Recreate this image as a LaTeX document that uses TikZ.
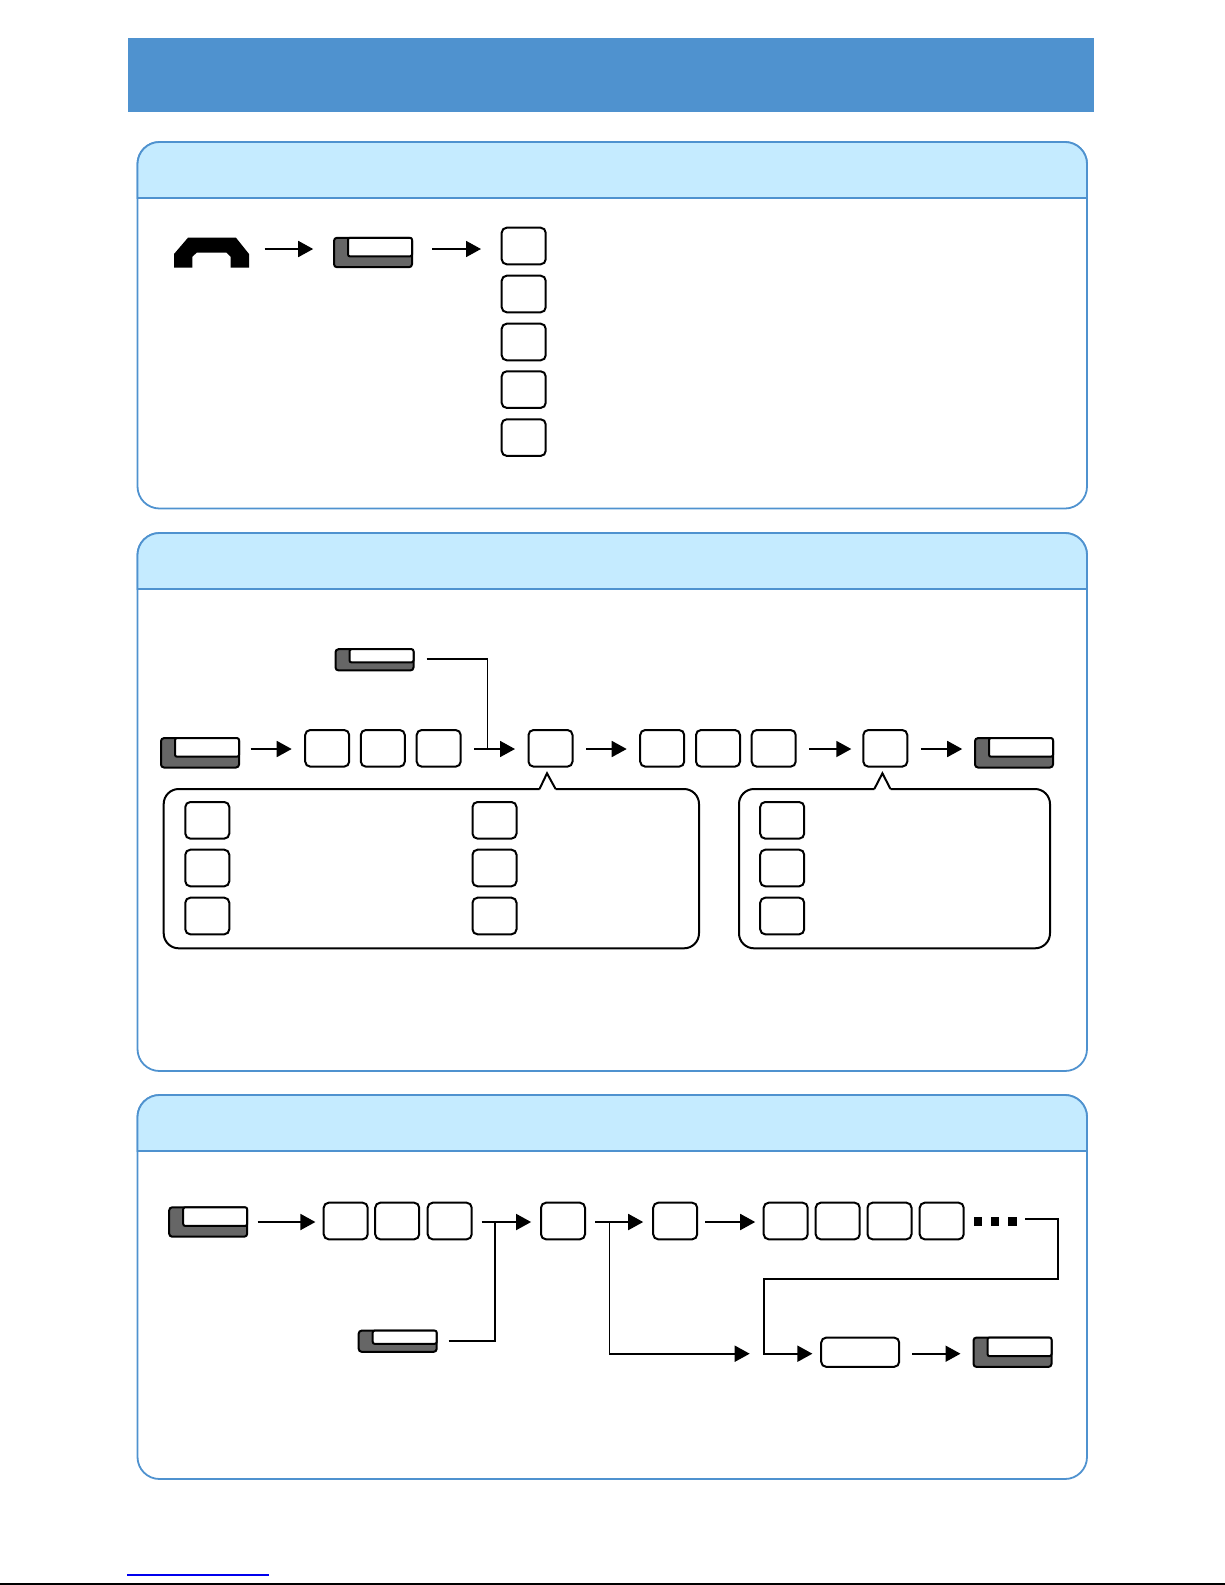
\documentclass[tikz,border=0pt]{standalone}
\usetikzlibrary{arrows.meta}
\definecolor{bannerblue}{HTML}{4F92CF}
\definecolor{headblue}{HTML}{C5EBFF}
\definecolor{keygray}{HTML}{666666}
\tikzset{
    >={Triangle[length=15pt,width=16pt]},
    conn/.style={line width=1.8pt},
    gap/.style 2 args={shorten <=#1pt, shorten >=#2pt},
    panelline/.style={draw=bannerblue, line width=1.8pt},
    panelhead/.style={fill=headblue, draw=bannerblue, line width=1.8pt},
    keybox/.style={draw, line width=2pt, rounded corners=5pt, fill=white, inner sep=0pt, outer sep=0pt, minimum width=44pt, minimum height=36.6pt},
    widebox/.style={keybox, minimum width=78pt, minimum height=29.2pt},
    softkey/.style={draw, line width=2pt, rounded corners=3pt, fill=keygray, inner sep=0pt, outer sep=0pt, minimum width=78pt, minimum height=29.4pt},
    softface/.style={draw, line width=2pt, rounded corners=2pt, fill=white, inner sep=0pt, outer sep=0pt, anchor=north east, minimum width=64pt, minimum height=18.6pt},
    softsmall/.style={softkey, minimum height=21.2pt},
    softfacesmall/.style={softface, minimum height=13.2pt},
    dotbox/.style={fill=black, inner sep=0pt, outer sep=0pt, minimum width=8.4pt, minimum height=9pt},
    balloon/.style={line width=2pt},
}
\begin{document}
\begin{tikzpicture}[x=1pt, y=-1pt]
    \useasboundingbox (0,0) rectangle (1225,1585);

    % banner
    \fill[bannerblue] (128,38.4) rectangle (1094,112);

    % first panel
    \draw[panelline, rounded corners=22pt] (137.5,142) rectangle (1087,508.5);
    \draw[panelhead] (137.5,198) [rounded corners=22pt] -- (137.5,142) -- (1087,142) [sharp corners] -- (1087,198) -- cycle;
    \fill (174,267.7) -- (174,254) -- (188,237.7) -- (236,237.7) -- (249,254) -- (249,267.7) -- (230.7,267.7) -- (230.7,256.7) -- (226.7,252.7) -- (196.7,252.7) -- (192.3,256.7) -- (192.3,267.7) -- cycle;
    \node[minimum width=75pt, minimum height=30pt, inner sep=0pt, outer sep=0pt] (phone) at (211.5,252.7) {};
    \coordinate (rowa) at (0,249);
    \node[softkey] (keya) at (373,252.5) {};
    \node[softface] (facea) at (keya.north east) {};
    \node[keybox] (boxa) at (523.7,246) {};
    \node[keybox] (boxb) at (523.7,294) {};
    \node[keybox] (boxc) at (523.7,342) {};
    \node[keybox] (boxd) at (523.7,389.6) {};
    \node[keybox] (boxe) at (523.7,437.6) {};
    \draw[->, conn, gap={15.7}{20.8}] (phone.east |- rowa) -- (keya.west |- rowa);
    \draw[->, conn, gap={20}{20.7}] (keya.east |- rowa) -- (boxa.west |- rowa);

    % second panel
    \draw[panelline, rounded corners=22pt] (137.5,533) rectangle (1087,1071);
    \draw[panelhead] (137.5,589) [rounded corners=22pt] -- (137.5,533) -- (1087,533) [sharp corners] -- (1087,589) -- cycle;
    \coordinate (rowb) at (0,749);
    \coordinate (rowe) at (0,658.7);
    \coordinate (joina) at (487.5,749);
    \node[softsmall] (keyb) at (374.5,659.8) {};
    \node[softfacesmall] (faceb) at (keyb.north east) {};
    \node[softkey] (keyc) at (200,752.8) {};
    \node[softface] (facec) at (keyc.north east) {};
    \node[keybox] (numa) at (327.2,748.3) {};
    \node[keybox] (numb) at (382.8,748.3) {};
    \node[keybox] (numc) at (438.7,748.3) {};
    \node[keybox] (numd) at (550.5,748.3) {};
    \node[keybox] (nume) at (662.2,748.3) {};
    \node[keybox] (numf) at (718,748.3) {};
    \node[keybox] (numg) at (773.7,748.3) {};
    \node[keybox] (numh) at (885.3,748.3) {};
    \node[softkey] (keyd) at (1014,752.8) {};
    \node[softface] (faced) at (keyd.north east) {};
    \draw[->, conn, gap={11.6}{13.5}] (keyc.east |- rowb) -- (numa.west |- rowb);
    \draw[->, conn, gap={13.5}{13.5}] (numc.east |- rowb) -- (numd.west |- rowb);
    \draw[->, conn, gap={13.5}{13.5}] (numd.east |- rowb) -- (nume.west |- rowb);
    \draw[->, conn, gap={13.5}{12}] (numg.east |- rowb) -- (numh.west |- rowb);
    \draw[->, conn, gap={13.5}{12.8}] (numh.east |- rowb) -- (keyd.west |- rowb);
    \draw[conn, shorten <=13pt] (keyb.east |- rowe) -| (joina);

    % balloons under the row
    \draw[balloon] (555.6,789) [rounded corners=15pt] -- (699,789) -- (699,948.3) -- (163.7,948.3) -- (163.7,789) -- (539.5,789) [sharp corners] (539.5,789) -- (547,773.3) -- (555.6,789);
    \node[keybox] (lefta) at (207.3,820.3) {};
    \node[keybox] (leftb) at (207.3,868) {};
    \node[keybox] (leftc) at (207.3,916) {};
    \node[keybox] (leftd) at (494.5,820.3) {};
    \node[keybox] (lefte) at (494.5,868) {};
    \node[keybox] (leftf) at (494.5,916) {};
    \draw[balloon] (890.5,789) [rounded corners=15pt] -- (1050,789) -- (1050,948.3) -- (739,948.3) -- (739,789) -- (874.3,789) [sharp corners] (874.3,789) -- (882.4,773.3) -- (890.5,789);
    \node[keybox] (righta) at (782.2,820.3) {};
    \node[keybox] (rightb) at (782.2,868) {};
    \node[keybox] (rightc) at (782.2,916) {};

    % third panel
    \draw[panelline, rounded corners=22pt] (137.5,1095) rectangle (1087,1479);
    \draw[panelhead] (137.5,1151) [rounded corners=22pt] -- (137.5,1095) -- (1087,1095) [sharp corners] -- (1087,1151) -- cycle;
    \coordinate (rowc) at (0,1222);
    \coordinate (rowd) at (0,1219.3);
    \coordinate (rowf) at (0,1353.7);
    \coordinate (joinb) at (495.2,1222);
    \coordinate (joinc) at (609.5,1222);
    \coordinate (mergea) at (749.7,1353.7);
    \coordinate (turna) at (1058.3,1278.7);
    \coordinate (turnb) at (763.7,1278.7);
    \node[softkey] (keye) at (208.2,1222) {};
    \node[softface] (facee) at (keye.north east) {};
    \node[keybox] (diala) at (345.7,1221) {};
    \node[keybox] (dialb) at (397.2,1221) {};
    \node[keybox] (dialc) at (449.7,1221) {};
    \node[keybox] (diald) at (563,1221) {};
    \node[keybox] (diale) at (675.2,1221) {};
    \node[keybox] (dialf) at (785.7,1221) {};
    \node[keybox] (dialg) at (837.7,1221) {};
    \node[keybox] (dialh) at (889.5,1221) {};
    \node[keybox] (diali) at (941.7,1221) {};
    \node[dotbox] (dota) at (977.9,1221.8) {};
    \node[dotbox] (dotb) at (995,1221.8) {};
    \node[dotbox] (dotc) at (1012.5,1221.8) {};
    \node[softsmall] (keyf) at (397.7,1341.2) {};
    \node[softfacesmall] (facef) at (keyf.north east) {};
    \node[widebox] (wide) at (860.2,1352.2) {};
    \node[softkey] (keyg) at (1012.5,1352.2) {};
    \node[softface] (faceg) at (keyg.north east) {};
    \draw[->, conn, gap={10.5}{8.3}] (keye.east |- rowc) -- (diala.west |- rowc);
    \draw[->, conn, gap={10}{9.9}] (dialc.east |- rowc) -- (diald.west |- rowc);
    \draw[->, conn, gap={10}{10}] (diald.east |- rowc) -- (diale.west |- rowc);
    \draw[->, conn, gap={8}{8.5}] (diale.east |- rowc) -- (dialf.west |- rowc);
    \draw[conn, shorten <=12pt] (keyf.east) -| (joinb);
    \draw[->, conn] (joinc) |- (mergea);
    \draw[->, conn, gap={8.6}{8.8}] (dotc.east |- rowd) -| (turna) -- (turnb) |- (wide.west |- rowf);
    \draw[->, conn, gap={13}{13}] (wide.east |- rowf) -- (keyg.west |- rowf);

    % foot of the page
    \draw[blue!93!black, line width=1.2pt] (127,1575) -- (268.7,1575);
    \draw[line width=1.4pt] (0,1584) -- (1225,1584);
\end{tikzpicture}
\end{document}
